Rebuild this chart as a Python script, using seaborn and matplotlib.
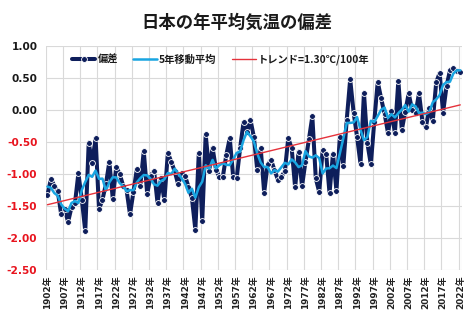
import numpy as np
import pandas as pd
import matplotlib
matplotlib.use("Agg")
import matplotlib.pyplot as plt
import seaborn as sns

# Annual mean temperature anomaly of Japan (deg C), 1902-2022
years = list(range(1902, 2023))
anomaly = [
    -1.33, -1.08, -1.18, -1.27, -1.63, -1.54, -1.75, -1.52, -1.46, -0.99,  # 1902-1911
    -1.40, -1.89, -0.51, -0.83, -0.44, -1.55, -1.40, -1.16, -0.81, -1.39,  # 1912-1921
    -0.89, -1.00, -1.18, -1.25, -1.63, -1.28, -0.92, -1.18, -0.64, -1.31,  # 1922-1931
    -1.03, -0.95, -1.45, -1.07, -1.41, -0.67, -0.81, -0.96, -1.16, -0.99,  # 1932-1941
    -1.03, -1.20, -1.38, -1.87, -0.67, -1.73, -0.38, -0.95, -0.59, -0.93,  # 1942-1951
    -1.05, -1.04, -0.70, -0.44, -1.05, -1.07, -0.60, -0.19, -0.35, -0.15,  # 1952-1961
    -0.42, -0.94, -0.60, -1.29, -0.85, -0.78, -0.94, -1.09, -1.04, -0.96,  # 1962-1971
    -0.44, -0.60, -1.21, -0.65, -1.19, -0.81, -0.46, -0.10, -1.07, -1.28,  # 1972-1981
    -0.63, -0.68, -1.30, -0.68, -1.26, -0.42, -0.88, -0.15, 0.48, -0.04,   # 1982-1991
    -0.42, -0.84, 0.27, -0.52, -0.85, -0.18, 0.44, 0.18, -0.06, -0.36,     # 1992-2001
    -0.01, -0.36, 0.46, -0.31, -0.03, 0.26, 0.00, -0.05, 0.26, -0.18,      # 2002-2011
    -0.27, 0.03, -0.17, 0.43, 0.58, -0.04, 0.37, 0.62, 0.65, 0.61,         # 2012-2021
    0.60,                                                                  # 2022
]

# Linear trend: 1.30 deg C per 100 years, -1.48 in 1902
trend_rate = 1.30
trend_start = -1.48

tick_years = list(range(1902, 2023, 5))
tick_labels = [f"{y}年" for y in tick_years]
y_ticks = [1.00, 0.50, 0.00, -0.50, -1.00, -1.50, -2.00, -2.50]

title = "日本の年平均気温の偏差"
label_anom = "偏差"
label_ma = "5年移動平均"
label_trend = f"トレンド={trend_rate:.2f}℃/100年"

df = pd.DataFrame({"year": years, "anomaly": anomaly})
df["ma5"] = df["anomaly"].rolling(5, center=True, min_periods=3).mean()
df["trend"] = trend_start + trend_rate / 100.0 * (df["year"] - years[0])

sns.set_theme(style="white")
plt.rcParams["font.family"] = ["Noto Sans CJK JP", "DejaVu Sans"]

fig = plt.figure(figsize=(4.74, 3.31), dpi=100)
ax = fig.add_axes([45.7 / 474, 1 - 270 / 331, (462 - 45.7) / 474, (270 - 46) / 331])

navy = "#0E1E5B"
sky = "#19A5E1"
red = "#E5323B"
grid = "#D9D9D9"

sns.lineplot(data=df, x="year", y="anomaly", ax=ax, color=navy, linewidth=2.9,
             marker="o", markersize=4.2, markerfacecolor=navy,
             markeredgecolor="white", markeredgewidth=0.6,
             label=label_anom, zorder=3)
sns.lineplot(data=df, x="year", y="ma5", ax=ax, color=sky, linewidth=1.8,
             label=label_ma, zorder=4)
sns.lineplot(data=df, x="year", y="trend", ax=ax, color=red, linewidth=1.0,
             label=label_trend, zorder=5)

ax.set_xlim(years[0] - 0.5, years[-1] + 0.5)
ax.set_ylim(-2.5, 1.0)

# category-style gridlines between years, every 5 years
for b in np.arange(years[0] - 0.5, years[-1] + 1, 5):
    ax.axvline(b, color=grid, linewidth=0.8, zorder=0)
ax.axvline(years[-1] + 0.5, color=grid, linewidth=0.8, zorder=0)
for v in y_ticks:
    ax.axhline(v, color=grid, linewidth=0.8, zorder=0)

ax.set_xticks(tick_years)
ax.set_xticklabels(tick_labels, rotation=90, fontsize=6.4, fontweight="bold",
                   family=["DejaVu Sans", "Noto Sans CJK JP"], color="#222222")
ax.set_yticks(y_ticks)
ax.set_yticklabels([f"{v:.2f}" for v in y_ticks], fontsize=7.6, fontweight="bold",
                   family=["DejaVu Sans"])
for lab, v in zip(ax.get_yticklabels(), y_ticks):
    lab.set_color("#E8141E" if v < 0 else "#1A1A1A")
ax.tick_params(axis="both", length=0)
ax.tick_params(axis="y", pad=6)
ax.tick_params(axis="x", pad=4)
ax.set_xlabel("")
ax.set_ylabel("")
for s in ax.spines.values():
    s.set_visible(False)

leg = ax.legend(loc="center", bbox_to_anchor=(0.42, 0.9375), ncol=3, frameon=False,
                handlelength=2.3, columnspacing=1.5, handletextpad=0.2,
                prop={"weight": "bold", "size": 7.4})
for t in leg.get_texts():
    t.set_color("#1A1A1A")

fig.text(0.5, 1 - 23 / 331, title, ha="center", va="center", fontsize=12.5,
         fontweight="bold", color="#1A1A1A")

fig.savefig("out.png", dpi=100, facecolor="white")
